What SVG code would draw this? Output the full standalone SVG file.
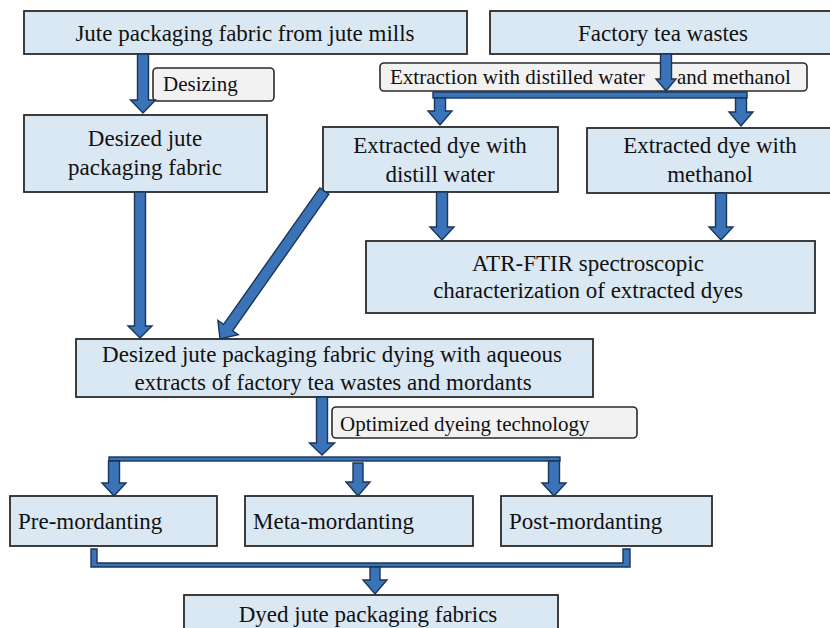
<svg xmlns="http://www.w3.org/2000/svg" width="830" height="628" viewBox="0 0 830 628">
<style>
.box{fill:#dae8f4;stroke:#2b2b2b;stroke-width:1.8}
.lbl{fill:#f2f2f2;stroke:#2b2b2b;stroke-width:1.6}
.arr{fill:#3a73b8;stroke:#1b3556;stroke-width:1.4;stroke-linejoin:miter}
text{font-family:"Liberation Serif","Times New Roman",serif;font-size:23px;fill:#111}
.c{text-anchor:middle}
.s{font-size:21px}
</style>
<rect width="830" height="628" fill="#ffffff"/>
<g id="nodes">
<g id="n-jute"><rect class="box" x="24" y="11" width="443" height="43"/><text class="c" x="245" y="41">Jute packaging fabric from jute mills</text></g>
<g id="n-tea"><rect class="box" x="490" y="11" width="342" height="43"/><text class="c" x="663" y="41">Factory tea wastes</text></g>
<g id="n-desized"><rect class="box" x="24" y="115" width="243" height="77"/><text class="c" x="145" y="146">Desized jute</text><text class="c" x="145" y="175">packaging fabric</text></g>
<g id="n-water"><rect class="box" x="323" y="127" width="235" height="65"/><text class="c" x="440" y="153">Extracted  dye with</text><text class="c" x="440" y="182">distill  water</text></g>
<g id="n-meth"><rect class="box" x="587" y="128" width="245" height="65"/><text class="c" x="710" y="153">Extracted  dye with</text><text class="c" x="710" y="182">methanol</text></g>
<g id="n-ftir"><rect class="box" x="366" y="241" width="449" height="72"/><text class="c" x="588" y="271">ATR-FTIR  spectroscopic</text><text class="c" x="588" y="298">characterization  of extracted  dyes</text></g>
<g id="n-dying"><rect class="box" x="76" y="339" width="517" height="58"/><text class="c" x="332" y="362">Desized jute packaging fabric  dying with aqueous</text><text class="c" x="333" y="390">extracts  of factory tea wastes and mordants</text></g>
<g id="n-pre"><rect class="box" x="10" y="496" width="207" height="50"/><text x="18" y="529">Pre-mordanting</text></g>
<g id="n-meta"><rect class="box" x="245" y="496" width="228" height="50"/><text x="253" y="529">Meta-mordanting</text></g>
<g id="n-post"><rect class="box" x="501" y="496" width="211" height="50"/><text x="509" y="529">Post-mordanting</text></g>
<g id="n-dyed"><rect class="box" x="184" y="595" width="374" height="40"/><text class="c" x="368" y="622">Dyed jute packaging fabrics</text></g>
</g>
<g id="connectors">
<rect class="lbl" x="153" y="68" width="121" height="33" rx="4"/><text class="s" x="163" y="91">Desizing</text>
<rect class="lbl" x="380" y="63" width="427" height="28" rx="4"/><text class="s" y="84"><tspan x="390">Extraction  with distilled water</tspan><tspan x="677">and methanol</tspan></text>
<rect class="lbl" x="332" y="407" width="305" height="31" rx="4"/><text class="s" x="340" y="431">Optimized  dyeing technology</text>
<polygon class="arr" points="137.5,54 148.5,54 148.5,100 155.5,100 143,113 130.5,100 137.5,100"/>
<polygon class="arr" points="660.5,54 671.5,54 671.5,79 676,79 666,91 656,79 660.5,79"/>
<rect class="arr" x="433" y="92" width="314" height="6"/>
<polygon class="arr" points="434.5,98 445.5,98 445.5,111 452,111 440,125 428,111 434.5,111"/>
<polygon class="arr" points="735.5,98 746.5,98 746.5,112 753,112 741,126 729,112 735.5,112"/>
<polygon class="arr" points="436.5,192 447.5,192 447.5,227 454,227 442,240 430,227 436.5,227"/>
<polygon class="arr" points="715.5,193 726.5,193 726.5,227 733,227 721,240 709,227 715.5,227"/>
<polygon class="arr" points="134.5,192 145.5,192 145.5,326 152,326 140,338 128,326 134.5,326"/>
<polygon class="arr" transform="translate(220,339) rotate(35.2)" points="-5.5,-181 5.5,-181 5.5,-14 12.5,-14 0,0 -12.5,-14 -5.5,-14"/>
<polygon class="arr" points="316.5,397 327.5,397 327.5,443 334.5,443 322,455 309.5,443 316.5,443"/>
<rect class="arr" x="109" y="457" width="451" height="4"/>
<polygon class="arr" points="108.5,461 119.5,461 119.5,483 126,483 114,496 102,483 108.5,483"/>
<polygon class="arr" points="353,463 363,463 363,482 370,482 358,496 346,482 353,482"/>
<polygon class="arr" points="548.5,461 559.5,461 559.5,483 566,483 554,496 542,483 548.5,483"/>
<polygon class="arr" points="91,549 97,549 97,563 623,563 623,549 630,549 630,567 91,567"/>
<polygon class="arr" points="370,567 380,567 380,580 387,580 375,594 363,580 370,580"/>
</g>
</svg>
